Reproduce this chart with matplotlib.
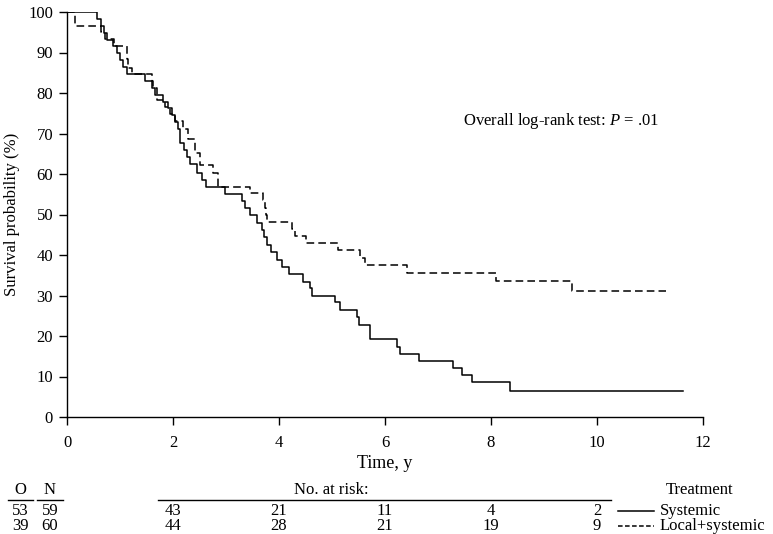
import matplotlib
matplotlib.use("Agg")
import matplotlib.pyplot as plt
from matplotlib.lines import Line2D

plt.rcParams["font.family"] = ["Liberation Serif", "DejaVu Serif"]
plt.rcParams["mathtext.fontset"] = "custom"
plt.rcParams["mathtext.rm"] = "Liberation Serif"
plt.rcParams["mathtext.it"] = "Liberation Serif:italic"

# Kaplan-Meier steps: time (y) and survival (%) after each drop
sys_times = [0, 0.56, 0.64, 0.69, 0.75, 0.87, 0.95, 1.00, 1.06, 1.13,
             1.47, 1.60, 1.66, 1.81, 1.90, 1.98, 2.04, 2.09, 2.13, 2.20,
             2.26, 2.32, 2.45, 2.55, 2.62, 2.98, 3.30, 3.36, 3.45, 3.58,
             3.67, 3.72, 3.77, 3.85, 3.96, 4.05, 4.18, 4.46, 4.58, 4.62,
             5.06, 5.15, 5.47, 5.50, 5.72, 6.22, 6.28, 6.64, 7.29, 7.45,
             7.64, 8.35]
sys_surv = [100, 98.3, 96.6, 94.9, 93.2, 91.5, 89.8, 88.1, 86.4, 84.7,
            83.0, 81.3, 79.6, 77.9, 76.2, 74.5, 72.8, 71.0, 67.6, 65.9,
            64.2, 62.5, 60.2, 58.5, 56.8, 55.1, 53.4, 51.6, 49.8, 48.0,
            46.2, 44.4, 42.5, 40.7, 38.8, 37.0, 35.2, 33.3, 31.8, 30.0,
            28.5, 26.5, 24.6, 22.7, 19.2, 17.4, 15.6, 13.9, 12.0, 10.4,
            8.6, 6.3]
sys_end = 11.62

loc_times = [0, 0.15, 0.65, 0.72, 0.88, 1.13, 1.16, 1.22, 1.60, 1.63,
             1.69, 1.85, 1.94, 2.04, 2.19, 2.29, 2.42, 2.51, 2.76, 2.85,
             3.45, 3.70, 3.73, 3.75, 3.77, 4.24, 4.30, 4.51, 5.12, 5.53,
             5.62, 6.41, 8.09, 9.52]
loc_surv = [100, 96.6, 95.0, 93.3, 91.5, 88.3, 86.2, 84.6, 82.9, 81.2,
            78.3, 76.6, 74.9, 73.2, 71.0, 68.6, 65.2, 62.2, 60.2, 56.9,
            55.2, 53.5, 51.7, 50.0, 48.2, 46.5, 44.8, 43.0, 41.2, 39.3,
            37.5, 35.6, 33.7, 31.2]
loc_end = 11.31

x_ticks = [0, 2, 4, 6, 8, 10, 12]
y_ticks = [0, 10, 20, 30, 40, 50, 60, 70, 80, 90, 100]

risk_times = [2, 4, 6, 8, 10]
risk_sys = [43, 21, 11, 4, 2]
risk_loc = [44, 28, 21, 19, 9]
observed = [53, 39]
totals = [59, 60]
groups = ["Systemic", "Local+systemic"]

W, H = 773, 534
DASH = (5, 2.7)
LW = 1.1
FS = 12


def fx(px):
    return px / W


def fy(py):
    return 1 - py / H


fig = plt.figure(figsize=(W / 100, H / 100), dpi=100)
ax = fig.add_axes([fx(67), fy(417), fx(703) - fx(67), fy(12) - fy(417)])

ax.step(sys_times + [sys_end], sys_surv + [sys_surv[-1]], where="post",
        color="black", linewidth=LW)
ax.step(loc_times + [loc_end], loc_surv + [loc_surv[-1]], where="post",
        color="black", linewidth=LW, linestyle=(0, DASH))

ax.set_xlim(0, 12)
ax.set_ylim(0, 100)
ax.set_xticks(x_ticks)
ax.set_yticks(y_ticks)
ax.spines["top"].set_visible(False)
ax.spines["right"].set_visible(False)
for s in ("left", "bottom"):
    ax.spines[s].set_linewidth(1.0)
ax.tick_params(axis="x", direction="out", length=6, width=1.0, pad=7, labelsize=FS)
ax.tick_params(axis="y", direction="out", length=6, width=1.0, pad=4, labelsize=FS)

ax.set_ylabel("Survival probability (%)", fontsize=FS, labelpad=6)
ax.set_xlabel("Time, y", fontsize=13, labelpad=3)

ax.text(0.622, 0.73, "Overall log-rank test: $P$ = .01", transform=ax.transAxes,
        fontsize=FS, ha="left", va="center")

# number-at-risk table below the plot
trans = matplotlib.transforms.blended_transform_factory(ax.transData, fig.transFigure)
row_y = [fy(511), fy(526)]
head_y = fy(490)

fig.text(fx(20), head_y, "O", fontsize=FS, ha="center", va="center")
fig.text(fx(50), head_y, "N", fontsize=FS, ha="center", va="center")
fig.text(fx(331), head_y, "No. at risk:", fontsize=FS, ha="center", va="center")
fig.text(fx(700), head_y, "Treatment", fontsize=FS, ha="center", va="center")
for x0, x1 in [(8, 33), (37, 63), (158, 611)]:
    fig.add_artist(Line2D([fx(x0), fx(x1)], [fy(500), fy(500)], color="black",
                          linewidth=1.0, transform=fig.transFigure))

risk_rows = [risk_sys, risk_loc]
for i in range(2):
    fig.text(fx(20), row_y[i], str(observed[i]), fontsize=FS, ha="center", va="center")
    fig.text(fx(50), row_y[i], str(totals[i]), fontsize=FS, ha="center", va="center")
    for t, n in zip(risk_times, risk_rows[i]):
        fig.text(t, row_y[i], str(n), fontsize=FS, ha="center", va="center",
                 transform=trans)
    style = "-" if i == 0 else (0, (3, 1.6))
    fig.add_artist(Line2D([fx(618), fx(654)], [row_y[i], row_y[i]], color="black",
                          linewidth=LW, linestyle=style, transform=fig.transFigure))
    fig.text(fx(660), row_y[i], groups[i], fontsize=FS, ha="left", va="center")

fig.savefig("out.png", dpi=100)
